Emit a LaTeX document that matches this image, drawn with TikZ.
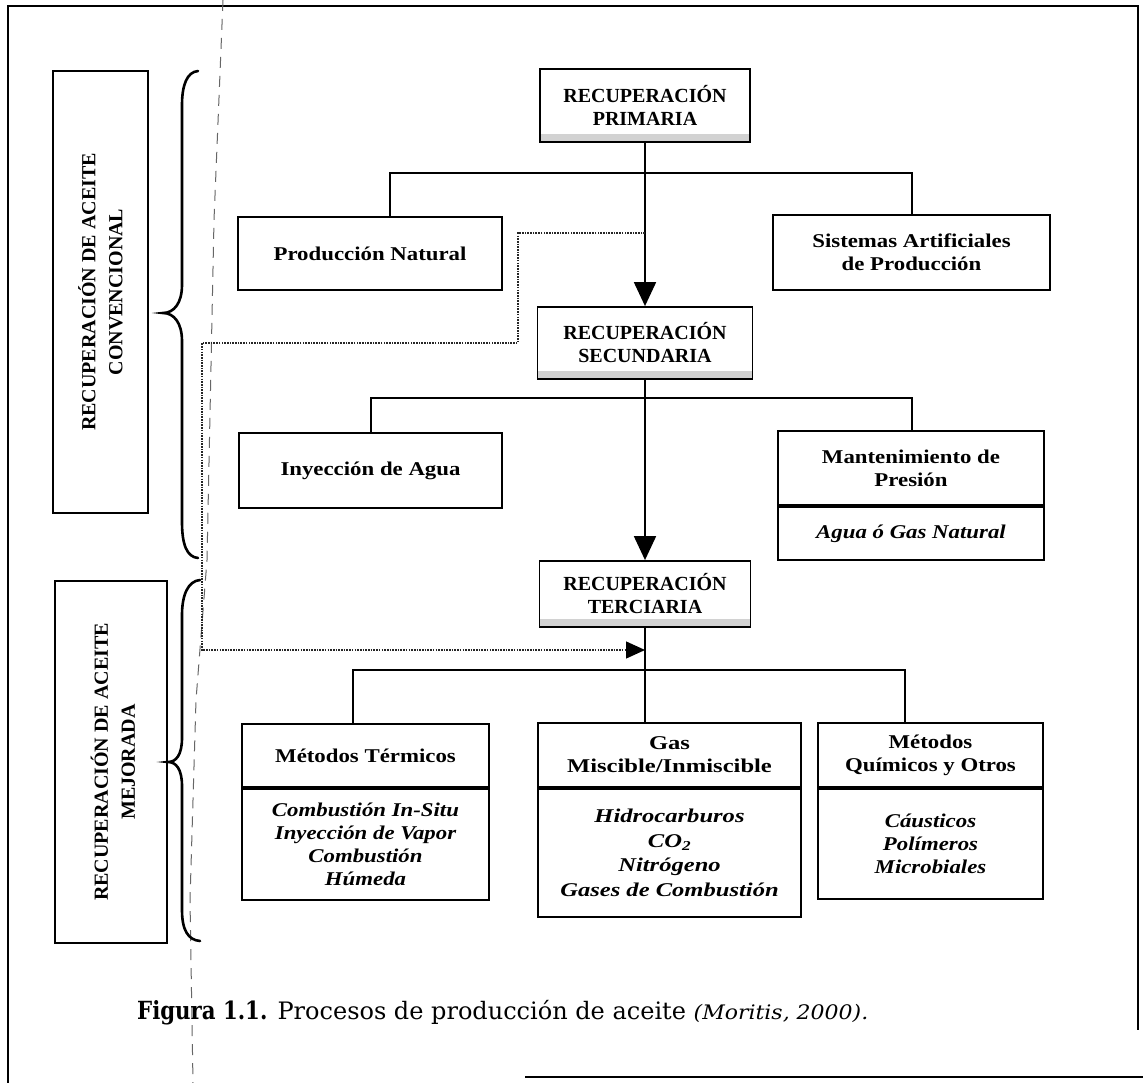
\documentclass[tikz,border=0pt]{standalone}
\usepackage{fontspec}
\setmainfont{Liberation Serif}
\newfontfamily\fB[FakeStretch=1.17]{Liberation Serif}
\newfontfamily\fC[FakeStretch=1.26]{Liberation Serif}
\newfontfamily\capfont{DejaVu Serif}
\newfontfamily\capbold[FakeStretch=0.85]{DejaVu Serif}
\newfontfamily\capit[FakeStretch=1.1]{DejaVu Serif}
\usetikzlibrary{arrows.meta,calc}
\begin{document}
\begin{tikzpicture}[x=1pt,y=-1pt,
  every node/.style={inner sep=0pt},
  bx/.style={draw, line width=1.8pt, align=center},
  recbox/.style={bx, font=\bfseries\fontsize{20}{23}\selectfont,
    path picture={\fill[gray!35] ([yshift=1pt]path picture bounding box.south west) rectangle ([yshift=8pt]path picture bounding box.south east);}},
  boxA/.style={bx, font=\bfseries\fontsize{20}{23}\selectfont},
  boxB/.style={bx, font=\fB\bfseries\fontsize{19.5}{23}\selectfont},
  boxC/.style={bx, font=\fC\bfseries\fontsize{19.5}{23}\selectfont},
  itB/.style={bx, font=\fB\bfseries\itshape\fontsize{19.5}{23}\selectfont},
  itC/.style={bx, font=\fC\bfseries\itshape\fontsize{19.5}{24.5}\selectfont},
  labbox/.style={draw, line width=1.8pt},
  labtext/.style={rotate=90, align=center, font=\bfseries\fontsize{20}{27}\selectfont},
  conn/.style={line width=1.8pt},
  mainarrow/.style={line width=1.8pt, -{Triangle[width=22pt,length=24pt]}},
  dotarrow/.style={line width=1.3pt, black!85, dash pattern=on 1.6pt off 1.1pt, -{Triangle[width=17pt,length=19pt,black]}},
  brace/.style={line width=2.6pt, line cap=round},
  frame/.style={line width=2pt},
  guide/.style={line width=1pt, black!60, dash pattern=on 11pt off 8pt}
]
\useasboundingbox (0,0) rectangle (1143,1083);

% frame (scanned, partly missing)
\draw[frame] (8,1083) -- (8,6) -- (1138,6) -- (1138,1030);
\draw[frame] (525,1077) -- (1143,1077);

% vertical dashed guide
\draw[guide] (223,0) -- (214,220) -- (207,560) -- (196,700) -- (190,900) -- (193,1083);

% left label boxes
\node[labbox, minimum width=95pt, minimum height=442pt] (lab1) at (100.5,292) {};
\node[labtext] (lab1t) at (lab1.center) {RECUPERACIÓN DE ACEITE\\CONVENCIONAL};
\node[labbox, minimum width=112pt, minimum height=362pt] (lab2) at (111,762) {};
\node[labtext] (lab2t) at ([xshift=2pt]lab2.center) {RECUPERACIÓN DE ACEITE\\MEJORADA};

% braces
\draw[brace] (198,71) .. controls (187,72) and (182,85) .. (182,105) -- (182,285)
  .. controls (182,303) and (174,313) .. (163,313)
  .. controls (174,313) and (182,323) .. (182,341) -- (182,522)
  .. controls (182,545) and (187,557) .. (198,558);
\draw[brace] (200,580) .. controls (188,581) and (182,595) .. (182,615) -- (182,738)
  .. controls (182,755) and (176,762) .. (168,762)
  .. controls (176,762) and (182,769) .. (182,786) -- (182,910)
  .. controls (182,930) and (188,940) .. (200,941);

% main boxes
\node[recbox, minimum width=210pt, minimum height=73pt] (prim) at (645,105.5) {RECUPERACIÓN\\PRIMARIA};
\node[boxB, minimum width=264pt, minimum height=73pt] (prodnat) at (370,253.5) {Producción Natural};
\node[boxB, minimum width=277pt, minimum height=75pt] (sist) at (911.5,252.5) {Sistemas Artificiales\\de Producción};
\node[recbox, minimum width=215pt, minimum height=72pt] (sec) at (645,343) {RECUPERACIÓN\\SECUNDARIA};
\node[boxB, minimum width=263pt, minimum height=75pt] (iny) at (370.5,470.5) {Inyección de Agua};
\node[boxB, minimum width=266pt, minimum height=74pt] (mant) at (911,468) {Mantenimiento de\\Presión};
\node[itB, minimum width=266pt, minimum height=53pt, anchor=north] (mantb) at (mant.south) {Agua ó Gas Natural};
\node[recbox, minimum width=211pt, minimum height=66pt] (ter) at (645,594) {RECUPERACIÓN\\TERCIARIA};

\node[boxB, minimum width=247pt, minimum height=63pt] (mt) at (365.5,755.5) {Métodos Térmicos};
\node[itB, minimum width=247pt, minimum height=111pt, anchor=north] (mtb) at (mt.south) {Combustión In-Situ\\Inyección de Vapor\\Combustión\\Húmeda};
\node[boxC, minimum width=263pt, minimum height=64pt] (gas) at (669.5,755) {Gas\\Miscible/Inmiscible};
\node[itC, minimum width=263pt, minimum height=128pt, anchor=north] (gasb) at (gas.south) {Hidrocarburos\\CO\textsubscript{2}\\Nitrógeno\\Gases de Combustión};
\node[boxB, minimum width=225pt, minimum height=64pt] (quim) at (930.5,755) {Métodos\\Químicos y Otros};
\node[itB, minimum width=225pt, minimum height=110pt, anchor=north] (quimb) at (quim.south) {Cáusticos\\Polímeros\\Microbiales};

% connectors
\coordinate (h1l) at (390,173); \coordinate (h1r) at (912,173);
\draw[conn] (h1l |- prodnat.north) -- (h1l) -- (h1r) -- (h1r |- sist.north);
\draw[mainarrow] (prim.south) -- (sec.north);

\coordinate (h2l) at (371,398); \coordinate (h2r) at (912,398);
\draw[conn] (h2l |- iny.north) -- (h2l) -- (h2r) -- (h2r |- mant.north);
\draw[mainarrow] (sec.south) -- (ter.north);

\coordinate (h3l) at (353,670); \coordinate (h3r) at (905,670);
\draw[conn] (h3l |- mt.north) -- (h3l) -- (h3r) -- (h3r |- quim.north);
\draw[conn] (ter.south) -- (ter.south |- gas.north);

% dotted connector
\coordinate (d0) at (645,233);
\coordinate (dA) at (518,233); \coordinate (dB) at (518,343);
\coordinate (dC) at (202,343); \coordinate (dD) at (202,650);
\coordinate (dE) at (645,650);
\draw[dotarrow] (d0) -- (dA) -- (dB) -- (dC) -- (dD) -- (dE);

% caption
\node[anchor=west] (cap) at (137,1013) {{\capbold\bfseries\fontsize{25}{28}\selectfont Figura 1.1.}{\capfont\fontsize{24}{28}\selectfont{} Procesos de producción de aceite }{\capit\itshape\fontsize{20}{28}\selectfont (Moritis, 2000).}};
\end{tikzpicture}
\end{document}
